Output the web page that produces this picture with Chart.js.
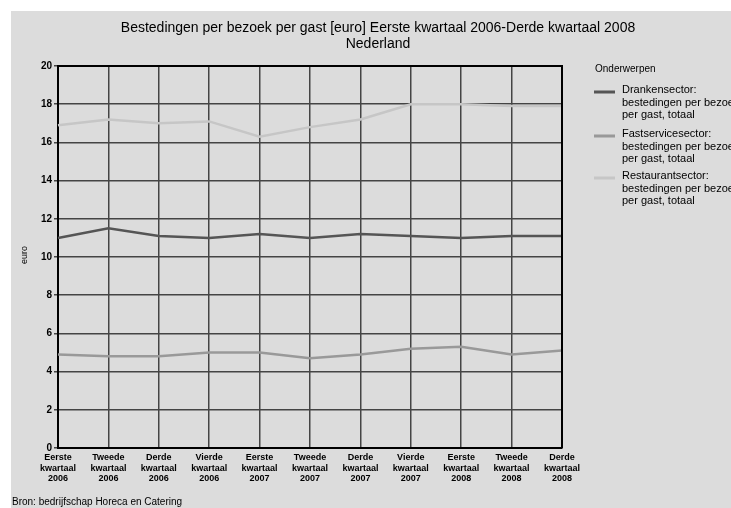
<!DOCTYPE html>
<html lang="nl">
<head>
    <meta charset="utf-8">
    <title>Bestedingen per bezoek per gast</title>
    <script src="https://cdn.jsdelivr.net/npm/chart.js@4.4.0/dist/chart.umd.min.js"></script>
    <style>
        body {
            margin: 0;
            padding: 0;
            background-color: #ffffff;
        }
    </style>
</head>
<body>
    <canvas id="lineChart" width="731" height="508"></canvas>

    <script>
        const quarters = ['Eerste', 'Tweede', 'Derde', 'Vierde', 'Eerste', 'Tweede', 'Derde', 'Vierde', 'Eerste', 'Tweede', 'Derde'];
        const years = ['2006', '2006', '2006', '2006', '2007', '2007', '2007', '2007', '2008', '2008', '2008'];

        const seriesNames = [
            ['Drankensector:', 'bestedingen per bezoek', 'per gast, totaal'],
            ['Fastservicesector:', 'bestedingen per bezoek', 'per gast, totaal'],
            ['Restaurantsector:', 'bestedingen per bezoek', 'per gast, totaal']
        ];
        const dranken = [11.0, 11.5, 11.1, 11.0, 11.2, 11.0, 11.2, 11.1, 11.0, 11.1, 11.1];
        const fastservice = [4.9, 4.8, 4.8, 5.0, 5.0, 4.7, 4.9, 5.2, 5.3, 4.9, 5.1];
        const restaurant = [16.9, 17.2, 17.0, 17.1, 16.3, 16.8, 17.2, 18.0, 18.0, 17.9, 17.9];

        const yTicks = [0, 2, 4, 6, 8, 10, 12, 14, 16, 18, 20];

        const FONT = "'Liberation Sans', Arial, sans-serif";

        const labels = quarters.map((q, i) => [q, 'kwartaal', years[i]]);

        // background, frame and the texts around the plot
        const decor = {
            id: 'decor',
            beforeDraw(chart) {
                const c = chart.ctx;
                c.save();
                c.fillStyle = '#ffffff';
                c.fillRect(0, 0, chart.width, chart.height);
                c.fillStyle = '#dcdcdc';
                c.fillRect(11, 11, chart.width - 11, chart.height - 11);
                c.restore();
            },
            afterDraw(chart) {
                const c = chart.ctx;
                const a = chart.chartArea;
                c.save();

                // top and right border of the plot
                c.strokeStyle = '#000000';
                c.lineWidth = 2;
                c.beginPath();
                c.moveTo(a.left, a.top);
                c.lineTo(a.right, a.top);
                c.lineTo(a.right, a.bottom);
                c.stroke();

                // title
                c.fillStyle = '#000000';
                c.textAlign = 'center';
                c.textBaseline = 'middle';
                c.font = '14px ' + FONT;
                c.fillText('Bestedingen per bezoek per gast [euro] Eerste kwartaal 2006-Derde kwartaal 2008', 378, 28);
                c.fillText('Nederland', 378, 44);

                // y axis title
                c.save();
                c.translate(25, (a.top + a.bottom) / 2 - 2);
                c.rotate(-Math.PI / 2);
                c.font = '9px ' + FONT;
                c.fillText('euro', 0, 0);
                c.restore();

                // legend
                c.textAlign = 'left';
                c.font = '10px ' + FONT;
                c.fillText('Onderwerpen', 595, 69);
                c.font = '11px ' + FONT;
                const rowTops = [90, 134, 176];
                chart.data.datasets.forEach((ds, i) => {
                    const y0 = rowTops[i];
                    c.strokeStyle = ds.borderColor;
                    c.lineWidth = 3;
                    c.beginPath();
                    c.moveTo(594, y0 + 2);
                    c.lineTo(615, y0 + 2);
                    c.stroke();
                    seriesNames[i].forEach((line, j) => {
                        c.fillText(line, 622, y0 + j * 12.5);
                    });
                });

                // source
                c.font = '10px ' + FONT;
                c.fillText('Bron: bedrijfschap Horeca en Catering', 12, 502);
                c.restore();
            }
        };

        const ctx = document.getElementById('lineChart').getContext('2d');

        const lineChart = new Chart(ctx, {
            type: 'line',
            data: {
                labels: labels,
                datasets: [
                    {
                        label: seriesNames[0].join(' '),
                        data: dranken,
                        borderColor: '#555555',
                        borderWidth: 2.5,
                        pointRadius: 0,
                        tension: 0
                    },
                    {
                        label: seriesNames[1].join(' '),
                        data: fastservice,
                        borderColor: '#999999',
                        borderWidth: 2.5,
                        pointRadius: 0,
                        tension: 0
                    },
                    {
                        label: seriesNames[2].join(' '),
                        data: restaurant,
                        borderColor: '#c6c6c6',
                        borderWidth: 2.5,
                        pointRadius: 0,
                        tension: 0
                    }
                ]
            },
            options: {
                responsive: false,
                animation: false,
                layout: {
                    padding: { top: 66, right: 169, bottom: 0, left: 0 }
                },
                plugins: {
                    legend: { display: false },
                    title: { display: false },
                    tooltip: { enabled: false }
                },
                scales: {
                    x: {
                        offset: false,
                        afterFit: (scale) => { scale.height = 60; },
                        grid: {
                            color: '#444444',
                            lineWidth: 1.5,
                            drawTicks: false
                        },
                        border: { color: '#000000', width: 2 },
                        ticks: {
                            autoSkip: false,
                            maxRotation: 0,
                            padding: 4,
                            color: '#000000',
                            font: { family: FONT, size: 9, weight: 'bold' },
                            lineHeight: 1.25
                        }
                    },
                    y: {
                        min: yTicks[0],
                        max: yTicks[yTicks.length - 1],
                        afterFit: (scale) => { scale.width = 58; },
                        afterBuildTicks: (scale) => {
                            scale.ticks = yTicks.map(v => ({ value: v }));
                        },
                        grid: {
                            color: '#444444',
                            lineWidth: 1.5,
                            tickLength: 4
                        },
                        border: { color: '#000000', width: 2 },
                        ticks: {
                            padding: 2,
                            color: '#000000',
                            font: { family: FONT, size: 10, weight: 'bold' }
                        }
                    }
                }
            },
            plugins: [decor]
        });
    </script>
</body>
</html>
